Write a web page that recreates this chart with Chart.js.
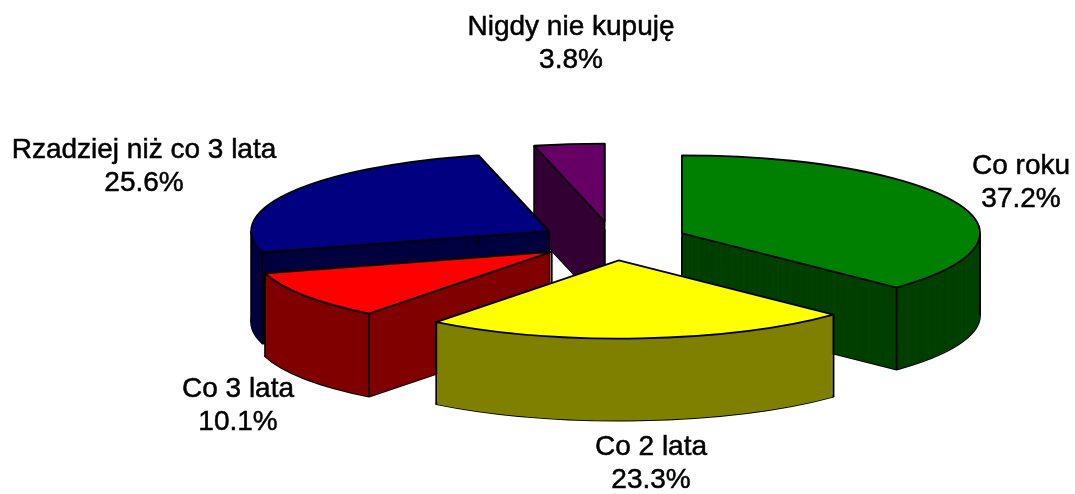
<!DOCTYPE html>
<html>
<head>
<meta charset="utf-8">
<style>
  html, body { margin: 0; background: #fff; }
  #wrap { position: relative; width: 1075px; height: 494px; }
</style>
<script src="https://cdn.jsdelivr.net/npm/chart.js@4/dist/chart.umd.js"></script>
</head>
<body>
<div id="wrap"><canvas id="pie"></canvas></div>
<script>
const categories = ["Co roku", "Co 2 lata", "Co 3 lata", "Rzadziej niż co 3 lata", "Nigdy nie kupuję"];
const shares = [37.2, 23.3, 10.1, 25.6, 3.8];
const topColors = ["#008000", "#ffff00", "#ff0000", "#000080", "#660066"];
const sideColors = ["#004000", "#808000", "#800000", "#000040", "#330033"];

// label centres, same order as categories
const labelPos = [[1021, 166], [651, 447], [238, 389], [144, 150], [571, 27]];
const lineGap = 33;

const radius = 298;
const squash = 0.262; // flattens the circle into the 3D looking ellipse
const depths = [82, 82, 83, 91, 86];
const explode = 74.5;
const drawOrder = [4, 3, 0, 2, 1]; // back slices first

const pie3d = {
  id: "pie3d",
  beforeDatasetsDraw(chart) {
    const ctx = chart.ctx;
    const arcs = chart.getDatasetMeta(0).data;
    drawOrder.forEach((i) => drawSlice(ctx, arcs[i], i));
    return false;
  },
  afterDraw(chart) {
    const ctx = chart.ctx;
    ctx.save();
    ctx.fillStyle = "#000";
    ctx.strokeStyle = "#000";
    ctx.lineWidth = 0.5;
    ctx.font = "28px 'Liberation Sans'";
    ctx.textAlign = "center";
    ctx.textBaseline = "middle";
    categories.forEach((name, i) => {
      const [x, y] = labelPos[i];
      const pct = shares[i].toFixed(1) + "%";
      ctx.fillText(name, x, y);
      ctx.strokeText(name, x, y);
      ctx.fillText(pct, x, y + lineGap);
      ctx.strokeText(pct, x, y + lineGap);
    });
    ctx.restore();
  },
};

function paintArc(ctx, arc, color, dx, dy) {
  const saved = arc.options;
  arc.options = Object.assign({}, saved, { backgroundColor: color, borderWidth: 0 });
  ctx.save();
  ctx.translate(dx, arc.y + dy);
  ctx.scale(1, squash);
  ctx.translate(0, -arc.y);
  arc.draw(ctx);
  ctx.restore();
  arc.options = saved;
}

function wedgePath(ctx, ax, ay, start, end) {
  ctx.beginPath();
  ctx.moveTo(ax, ay);
  ctx.ellipse(ax, ay, radius, radius * squash, 0, start, end);
  ctx.closePath();
}

function drawSlice(ctx, arc, i) {
  const start = arc.startAngle;
  const end = arc.endAngle;
  const mid = (start + end) / 2;
  const dx = Math.cos(mid) * explode;
  const dy = Math.sin(mid) * explode * squash;
  const ax = arc.x + dx;
  const ay = arc.y + dy;
  const depth = depths[i];

  ctx.save();
  ctx.strokeStyle = "#000";
  ctx.lineWidth = 1.8;
  ctx.lineJoin = "round";

  wedgePath(ctx, ax, ay + depth, start, end);
  ctx.stroke();
  // half pixel steps so the edge fringes close up
  for (let d = depth; d > 0; d -= 0.5) paintArc(ctx, arc, sideColors[i], dx, dy + d);

  // vertical edges of the wall
  const edgeAngles = [start, end];
  [0, Math.PI, Math.PI * 2].forEach((a) => {
    if (a > start && a < end) edgeAngles.push(a);
  });
  ctx.beginPath();
  edgeAngles.forEach((a) => {
    const x = ax + Math.cos(a) * radius;
    const y = ay + Math.sin(a) * radius * squash;
    ctx.moveTo(x, y);
    ctx.lineTo(x, y + depth);
  });
  const frontInside = Math.PI / 2 > start && Math.PI / 2 < end;
  if (!frontInside) {
    ctx.moveTo(ax, ay);
    ctx.lineTo(ax, ay + depth);
  }
  ctx.stroke();

  paintArc(ctx, arc, topColors[i], dx, dy);
  wedgePath(ctx, ax, ay, start, end);
  ctx.stroke();
  ctx.restore();
}

new Chart(document.getElementById("pie"), {
  type: "pie",
  data: {
    labels: categories,
    datasets: [{ data: shares, backgroundColor: topColors, borderWidth: 0, clip: false }],
  },
  options: {
    responsive: true,
    maintainAspectRatio: false,
    animation: false,
    radius: radius,
    layout: { padding: { left: 152, bottom: 12 } },
    plugins: { legend: { display: false }, tooltip: { enabled: false } },
  },
  plugins: [pie3d],
});
</script>
</body>
</html>
